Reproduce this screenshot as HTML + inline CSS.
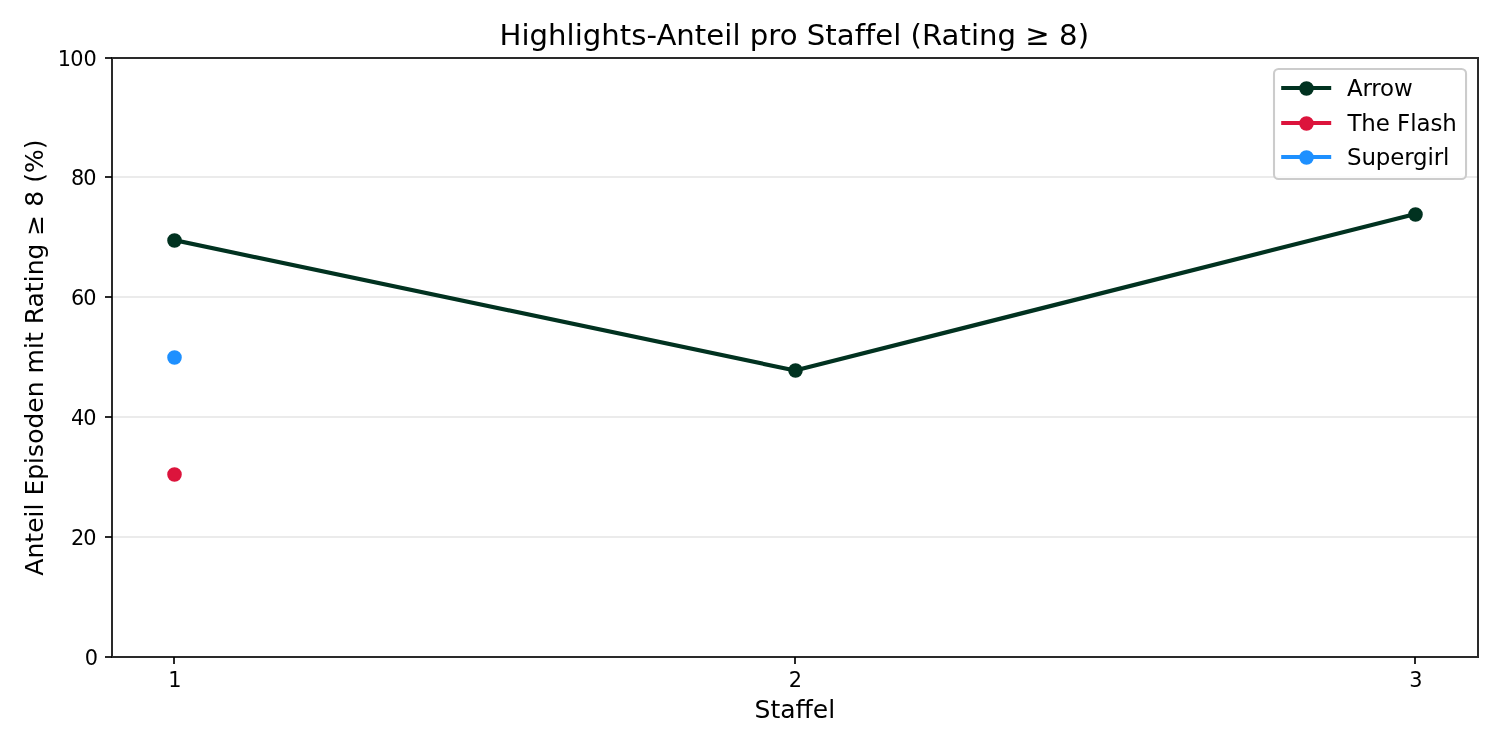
<!DOCTYPE html>
<html lang="de"><head><meta charset="utf-8"><title>Highlights-Anteil pro Staffel</title>
<style>html,body{margin:0;padding:0;background:#fff;width:1500px;height:750px;overflow:hidden}svg{display:block;will-change:transform}</style>
</head><body>
<svg width="1500" height="750" viewBox="0 0 1500 750">
<rect width="1500" height="750" fill="#fff"/>
<rect x="113" y="176" width="1364" height="2" fill="#b0b0b0" fill-opacity="0.25"/>
<rect x="113" y="296" width="1364" height="2" fill="#b0b0b0" fill-opacity="0.25"/>
<rect x="113" y="416" width="1364" height="2" fill="#b0b0b0" fill-opacity="0.25"/>
<rect x="113" y="536" width="1364" height="2" fill="#b0b0b0" fill-opacity="0.25"/>
<path d="M174.2 240.09 L795.0 370.49 L1415.4 214.01" fill="none" stroke="#013220" stroke-width="4.167" stroke-linejoin="round" stroke-linecap="square"/>
<circle cx="174.5" cy="240.5" r="6.250" fill="#013220" stroke="#013220" stroke-width="2.083"/>
<circle cx="795.5" cy="370.5" r="6.250" fill="#013220" stroke="#013220" stroke-width="2.083"/>
<circle cx="1415.5" cy="214.5" r="6.250" fill="#013220" stroke="#013220" stroke-width="2.083"/>
<circle cx="174.5" cy="474.5" r="6.250" fill="#dc143c" stroke="#dc143c" stroke-width="2.083"/>
<circle cx="174.5" cy="357.5" r="6.250" fill="#1e90ff" stroke="#1e90ff" stroke-width="2.083"/>
<rect x="111" y="57" width="2" height="601" fill="#000" fill-opacity="0.835"/>
<rect x="1477" y="57" width="2" height="601" fill="#000" fill-opacity="0.835"/>
<rect x="113" y="57" width="1364" height="2" fill="#000" fill-opacity="0.835"/>
<rect x="113" y="656" width="1364" height="2" fill="#000" fill-opacity="0.835"/>
<rect x="173" y="657" width="2" height="7" fill="#000" fill-opacity="0.835"/>
<rect x="794" y="657" width="2" height="7" fill="#000" fill-opacity="0.835"/>
<rect x="1414" y="657" width="2" height="7" fill="#000" fill-opacity="0.835"/>
<rect x="105" y="656" width="7" height="2" fill="#000" fill-opacity="0.835"/>
<rect x="105" y="536" width="7" height="2" fill="#000" fill-opacity="0.835"/>
<rect x="105" y="416" width="7" height="2" fill="#000" fill-opacity="0.835"/>
<rect x="105" y="296" width="7" height="2" fill="#000" fill-opacity="0.835"/>
<rect x="105" y="176" width="7" height="2" fill="#000" fill-opacity="0.835"/>
<rect x="105" y="57" width="7" height="2" fill="#000" fill-opacity="0.835"/>
<text x="174.8" y="687.45" text-anchor="middle" style="font-size:20.833px;font-family:'DejaVu Sans','Liberation Sans',sans-serif">1</text>
<text x="795.5" y="687.45" text-anchor="middle" style="font-size:20.833px;font-family:'DejaVu Sans','Liberation Sans',sans-serif">2</text>
<text x="1415.9" y="687.45" text-anchor="middle" style="font-size:20.833px;font-family:'DejaVu Sans','Liberation Sans',sans-serif">3</text>
<text x="84.85" y="665.0" style="font-size:20.833px;font-family:'DejaVu Sans','Liberation Sans',sans-serif">0</text>
<text x="70.9" y="545.0" style="font-size:20.833px;font-family:'DejaVu Sans','Liberation Sans',sans-serif">2<tspan dx="-1">0</tspan></text>
<text x="70.9" y="425.0" style="font-size:20.833px;font-family:'DejaVu Sans','Liberation Sans',sans-serif">4<tspan dx="-1">0</tspan></text>
<text x="70.9" y="305.0" style="font-size:20.833px;font-family:'DejaVu Sans','Liberation Sans',sans-serif">6<tspan dx="-1">0</tspan></text>
<text x="70.9" y="185.0" style="font-size:20.833px;font-family:'DejaVu Sans','Liberation Sans',sans-serif">8<tspan dx="-1">0</tspan></text>
<text x="57.85" y="66.0" style="font-size:20.833px;font-family:'DejaVu Sans','Liberation Sans',sans-serif">1<tspan dx="-0.9">0</tspan>0</text>
<text x="794.85" y="718.0" text-anchor="middle" style="font-size:25.000px;font-family:'DejaVu Sans','Liberation Sans',sans-serif">Staffel</text>
<text x="43.2" y="357.6" text-anchor="middle" transform="rotate(-90 43.2 357.6)" style="font-size:25.000px;font-family:'DejaVu Sans','Liberation Sans',sans-serif;letter-spacing:0.018px">Anteil Episoden mit Rating ≥ 8 (%)</text>
<text x="794.3" y="45.0" text-anchor="middle" style="font-size:29.167px;font-family:'DejaVu Sans','Liberation Sans',sans-serif;letter-spacing:0.017px">Highlights-Anteil pro Staffel (Rating ≥ 8)</text>
<rect x="1274.0" y="69.0" width="192.050" height="110.050" rx="4.583" fill="#fff" fill-opacity="0.8" stroke="#ccc" stroke-width="2.083"/>
<rect x="1281.2" y="86" width="50.0" height="4" fill="#013220"/>
<circle cx="1306.5" cy="88.5" r="6.250" fill="#013220" stroke="#013220" stroke-width="2.083"/>
<text x="1347.00" y="96.1" style="font-size:22.917px;font-family:'DejaVu Sans','Liberation Sans',sans-serif;letter-spacing:-0.18px">Arrow</text>
<rect x="1281.2" y="121" width="50.0" height="4" fill="#dc143c"/>
<circle cx="1306.5" cy="123.5" r="6.250" fill="#dc143c" stroke="#dc143c" stroke-width="2.083"/>
<text x="1347.40" y="131.1" style="font-size:22.917px;font-family:'DejaVu Sans','Liberation Sans',sans-serif;letter-spacing:-0.06px">The Flash</text>
<rect x="1281.2" y="155" width="50.0" height="4" fill="#1e90ff"/>
<circle cx="1306.5" cy="157.5" r="6.250" fill="#1e90ff" stroke="#1e90ff" stroke-width="2.083"/>
<text x="1347.10" y="165.1" style="font-size:22.917px;font-family:'DejaVu Sans','Liberation Sans',sans-serif;letter-spacing:-0.14px">Supergirl</text>
</svg>
</body></html>
